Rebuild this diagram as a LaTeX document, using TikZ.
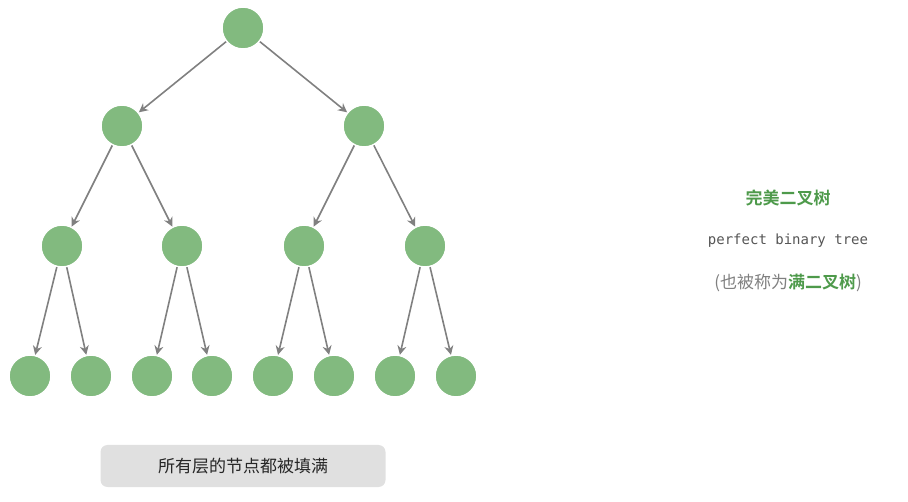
\documentclass[tikz,border=0pt]{standalone}
\usepackage{fontspec}
\setmonofont{DejaVu Sans Mono}
\newfontfamily\cjk{Noto Sans CJK SC}
\newfontfamily\cjkb{Noto Sans CJK SC Bold}
\usetikzlibrary{arrows.meta}
\definecolor{nfill}{HTML}{82BA7F}
\definecolor{nline}{HTML}{7DBE78}
\definecolor{tgreen}{HTML}{4E9A4B}
\definecolor{egray}{HTML}{808080}
\definecolor{tgray}{HTML}{555555}
\begin{document}
\begin{tikzpicture}[x=1pt,y=-1pt,
  tn/.style={circle,minimum size=42pt,inner sep=0pt,fill=nfill,draw=white,line width=1.5pt,
    path picture={\draw[nline,line width=1.3pt] (path picture bounding box.center) circle (21.5pt);}},
  edge/.style={draw=egray,line width=1.6pt,-{Stealth[length=9pt,width=9pt]}}]
\useasboundingbox (0,0) rectangle (908,502);
\node[tn] (r) at (243,28) {};
\node[tn] (a) at (122,126) {};
\node[tn] (b) at (364,126) {};
\node[tn] (c1) at (62,246) {};
\node[tn] (c2) at (182,246) {};
\node[tn] (c3) at (304,246) {};
\node[tn] (c4) at (425,246) {};
\foreach \i/\x in {1/30,2/91,3/152,4/212,5/273,6/334,7/395,8/456}{\node[tn] (d\i) at (\x,376) {};}
\draw[edge] (r) -- (a); \draw[edge] (r) -- (b);
\draw[edge] (a) -- (c1); \draw[edge] (a) -- (c2);
\draw[edge] (b) -- (c3); \draw[edge] (b) -- (c4);
\draw[edge] (c1) -- (d1); \draw[edge] (c1) -- (d2);
\draw[edge] (c2) -- (d3); \draw[edge] (c2) -- (d4);
\draw[edge] (c3) -- (d5); \draw[edge] (c3) -- (d6);
\draw[edge] (c4) -- (d7); \draw[edge] (c4) -- (d8);
\node[text=tgreen,font=\cjkb\fontsize{17}{20}\selectfont] (t1) at (788,198) {完美二叉树};
\node[text=tgray,font=\ttfamily\fontsize{14}{16}\selectfont] (t2) at (788,241) {perfect binary tree};
\node[text=egray,font=\cjk\fontsize{17}{20}\selectfont] (t3) at (788,283) {(也被称为{\cjkb\color{tgreen}满二叉树})};
\node[fill=black!12,rounded corners=7pt,minimum width=285pt,minimum height=42pt,text=black!85,font=\cjk\fontsize{17}{20}\selectfont] (lab) at (243,466) {所有层的节点都被填满};
\end{tikzpicture}
\end{document}
